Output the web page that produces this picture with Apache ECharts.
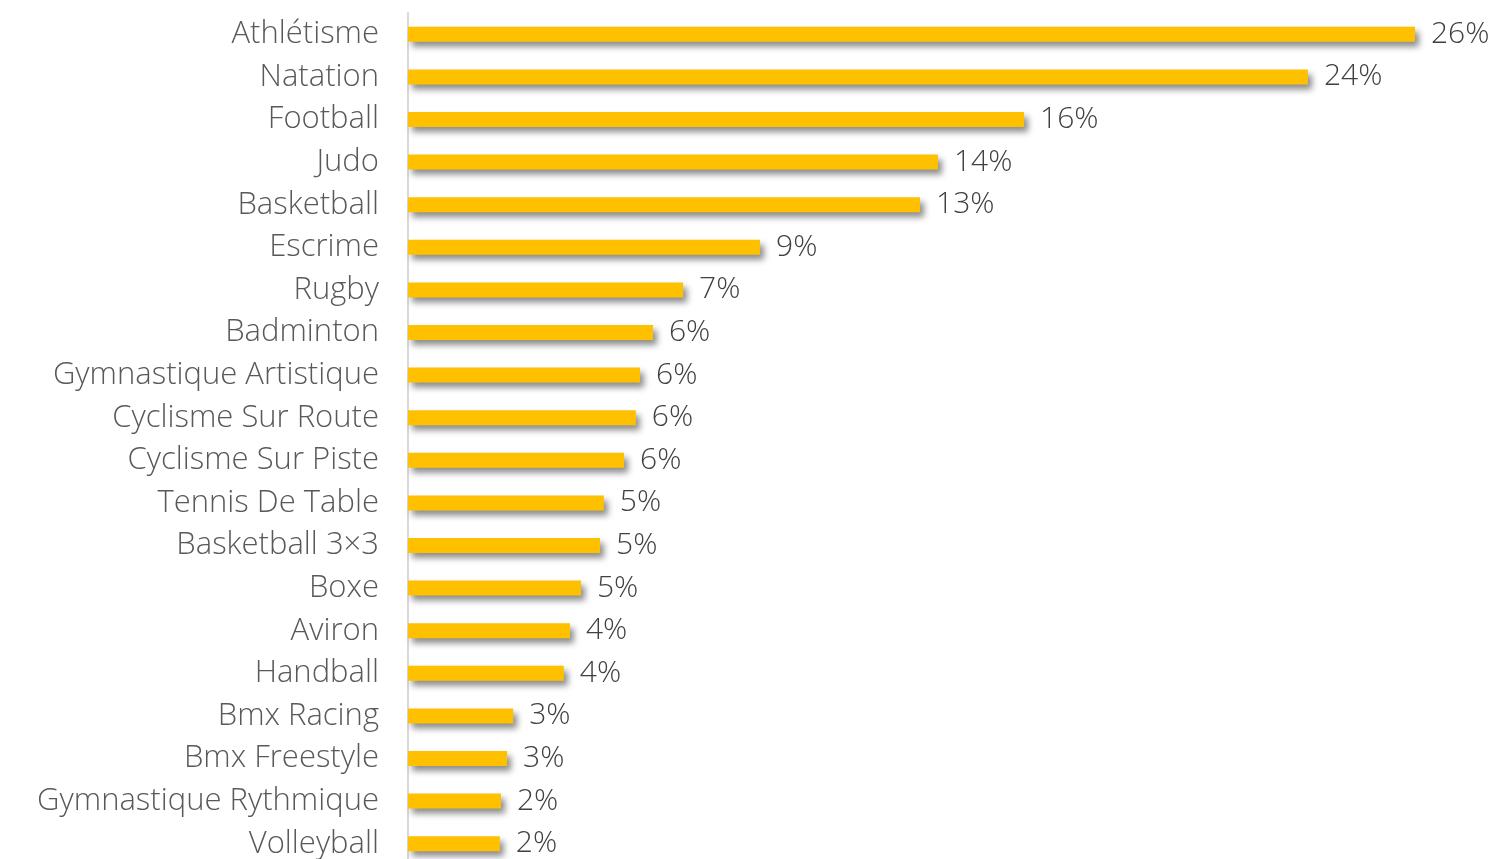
<!DOCTYPE html>
<html><head><meta charset="utf-8">
<script src="https://cdn.jsdelivr.net/npm/echarts@6/dist/echarts.min.js"></script>
<style>html,body{margin:0;padding:0;background:#fff;overflow:hidden}#c{width:1494px;height:880px}</style>
</head><body><div id="c"></div>
<script>
var categories = ["Athlétisme","Natation","Football","Judo","Basketball","Escrime","Rugby","Badminton","Gymnastique Artistique","Cyclisme Sur Route","Cyclisme Sur Piste","Tennis De Table","Basketball 3×3","Boxe","Aviron","Handball","Bmx Racing","Bmx Freestyle","Gymnastique Rythmique","Volleyball"];
var values = [26.43,23.62,16.17,13.91,13.44,9.24,7.22,6.43,6.09,5.98,5.67,5.14,5.04,4.54,4.25,4.09,2.76,2.60,2.44,2.41];

var chart = echarts.init(document.getElementById('c'));
chart.setOption({
  animation:false,
  grid:{left:408, top:13, width:1066.8, height:852, containLabel:false},
  xAxis:{type:'value', min:0, max:28, show:false},
  yAxis:{type:'category', data:categories, inverse:true,
    axisLine:{show:true, lineStyle:{color:'#d9d9d9', width:2}},
    axisTick:{show:false},
    axisLabel:{margin:29, fontFamily:'Open Sans', fontWeight:300, fontSize:31, color:'#595959'}},
  series:[{type:'bar', data:values, barWidth:15,
    itemStyle:{color:'#FFC000', shadowColor:'rgba(0,0,0,0.45)', shadowBlur:6, shadowOffsetX:4, shadowOffsetY:5},
    label:{show:true, position:'right', distance:16, fontFamily:'Open Sans', fontWeight:300, fontSize:30, color:'#404040',
      formatter:function(p){return Math.round(p.value)+'%';}}}]
});
</script></body></html>
